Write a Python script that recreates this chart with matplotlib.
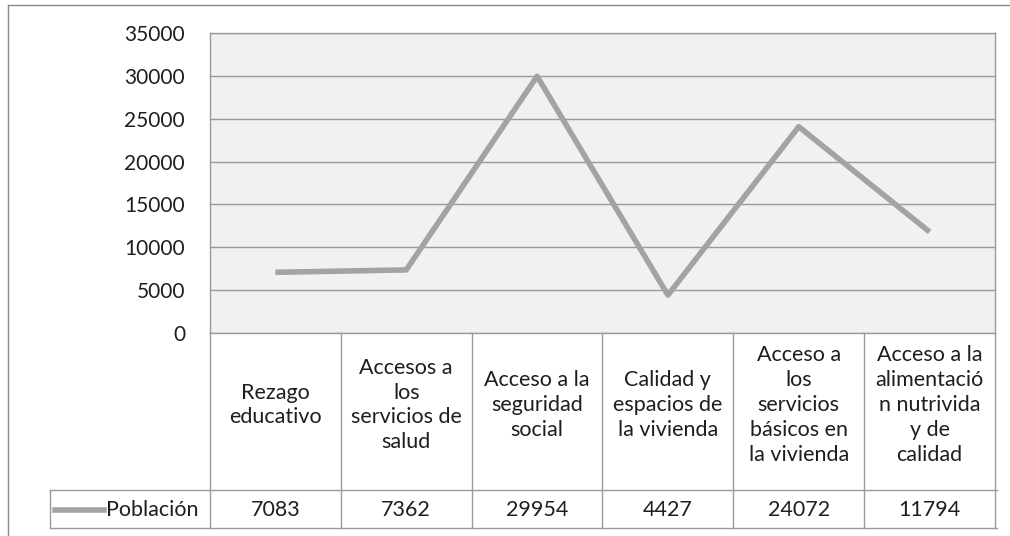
import matplotlib
matplotlib.use("Agg")
import matplotlib.pyplot as plt
import matplotlib.transforms as mtransforms

plt.rcParams['font.family'] = ['Lato', 'DejaVu Sans']

categories = ['Rezago\neducativo',
              'Accesos a\nlos\nservicios de\nsalud',
              'Acceso a la\nseguridad\nsocial',
              'Calidad y\nespacios de\nla vivienda',
              'Acceso a\nlos\nservicios\nbásicos en\nla vivienda',
              'Acceso a la\nalimentació\nn nutrivida\ny de\ncalidad']
poblacion = [7083, 7362, 29954, 4427, 24072, 11794]
series_name = 'Población'
yticks = [0, 5000, 10000, 15000, 20000, 25000, 30000, 35000]

W, H = 1010, 536
fig = plt.figure(figsize=(W / 100, H / 100), dpi=100)
fig.patch.set_facecolor('white')

def fx(px):
    return px / W

def fy(py):
    return 1 - py / H

grid_c = '#9a9a9a'
line_c = '#a3a3a3'
text_c = '#1e1e1e'

# outer chart frame: only top and left edges fall inside the scan
fig.add_artist(plt.Line2D([fx(8), 1.0], [fy(5), fy(5)], transform=fig.transFigure,
                          color='#8a8a8a', linewidth=1.0))
fig.add_artist(plt.Line2D([fx(8), fx(8)], [fy(5), 0.0], transform=fig.transFigure,
                          color='#8a8a8a', linewidth=1.0))

ax = fig.add_axes([fx(210), fy(333), fx(995) - fx(210), fy(33) - fy(333)])
ax.set_facecolor('#f1f1f1')
x = list(range(len(poblacion)))
ax.plot(x, poblacion, color=line_c, linewidth=4.0, solid_capstyle='butt', zorder=3)
ax.set_xlim(-0.5, len(poblacion) - 0.5)
ax.set_ylim(0, 35000)
ax.set_yticks(yticks)
ax.set_yticklabels([str(v) for v in yticks], fontsize=15, color=text_c)
ax.tick_params(axis='y', length=0, pad=18)
ax.set_xticks([])
ax.grid(axis='y', color=grid_c, linewidth=1.0)
ax.set_axisbelow(True)
for s in ax.spines.values():
    s.set_color(grid_c)
    s.set_linewidth(1.0)

# data table below the plot
trans = mtransforms.blended_transform_factory(ax.transData, fig.transFigure)
row1_top, row1_bot, row2_bot = fy(333), fy(490), fy(528)
for i in range(len(poblacion) + 1):
    ax.plot([i - 0.5, i - 0.5], [row1_top, row2_bot], transform=trans,
            color=grid_c, linewidth=1.0, clip_on=False)
for yy in (row1_bot, row2_bot):
    fig.add_artist(plt.Line2D([fx(50), fx(997)], [yy, yy], transform=fig.transFigure,
                              color=grid_c, linewidth=1.0))
fig.add_artist(plt.Line2D([fx(50), fx(50)], [row1_bot, row2_bot], transform=fig.transFigure,
                          color=grid_c, linewidth=1.0))

for i, (cat, val) in enumerate(zip(categories, poblacion)):
    ax.text(i, fy(405), cat, transform=trans, ha='center', va='center',
            fontsize=15.5, color=text_c, linespacing=1.3)
    ax.text(i, fy(510), str(val), transform=trans, ha='center', va='center',
            fontsize=15.5, color=text_c)

# legend key in the table
ymid = fy(510)
fig.add_artist(plt.Line2D([fx(55), fx(104)], [ymid, ymid], transform=fig.transFigure,
                          color=line_c, linewidth=4.0))
fig.text(fx(106), ymid, series_name, ha='left', va='center', fontsize=15.5, color=text_c)

fig.savefig('out.png', dpi=100)
